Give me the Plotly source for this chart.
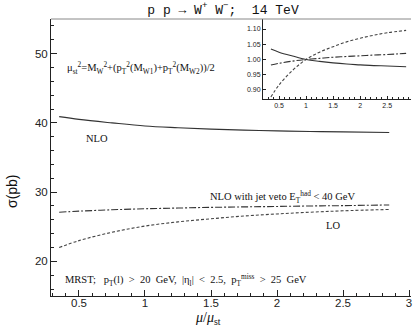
import numpy as np
import plotly.graph_objects as go

# scale factor mu/mu_st
mu = [0.35, 0.5, 0.75, 1.0, 1.25, 1.5, 1.75, 2.0, 2.25, 2.5, 2.85]

# cross sections in pb
sigma_nlo = [40.9, 40.5, 40.0, 39.55, 39.3, 39.1, 38.95, 38.85, 38.75, 38.7, 38.6]
sigma_lo = [22.0, 23.0, 24.2, 25.1, 25.7, 26.15, 26.55, 26.85, 27.1, 27.3, 27.5]
sigma_veto = [27.1, 27.25, 27.45, 27.6, 27.7, 27.8, 27.87, 27.93, 28.0, 28.05, 28.15]

x_ticks = [0.5, 1, 1.5, 2, 2.5, 3]
y_ticks = [20, 30, 40, 50]
inset_yticks = [0.90, 0.95, 1.00, 1.05, 1.10]

i1 = mu.index(1.0)
ratio = lambda s: np.array(s) / s[i1]

styles = {
    "nlo": dict(color="#333", width=1.1, dash="solid"),
    "lo": dict(color="#444", width=1.1, dash="3px,2px"),
    "veto": dict(color="#333", width=1.1, dash="7px,2px,2px,2px"),
}

fig = go.Figure()
for key, s in [("nlo", sigma_nlo), ("lo", sigma_lo), ("veto", sigma_veto)]:
    fig.add_trace(go.Scatter(x=mu, y=s, mode="lines", line=dict(shape="spline", **styles[key]),
                             showlegend=False, hoverinfo="skip"))
    fig.add_trace(go.Scatter(x=mu, y=ratio(s), mode="lines", line=dict(shape="spline", **styles[key]),
                             xaxis="x2", yaxis="y2", showlegend=False, hoverinfo="skip"))

W, H = 413, 333
L, R, T, B = 51, 2, 19, 37
pw = W - L - R
ph = H - T - B

tickfont = dict(family="Liberation Sans, Arial", size=11.5, color="#222")
small = dict(family="Liberation Sans, Arial", size=7, color="#222")

fig.update_layout(
    width=W, height=H,
    margin=dict(l=L, r=R, t=T, b=B, autoexpand=False),
    paper_bgcolor="white", plot_bgcolor="white",
    title=dict(text="p p \u2192 W<sup>+</sup> W<sup>\u2212</sup>;  14 TeV",
               x=223 / W, xanchor="center", y=1 - 9 / H, yanchor="middle",
               font=dict(family="Liberation Mono", size=13, color="#111")),
    xaxis=dict(range=[0.288, 3.015], tickvals=x_ticks, ticktext=["0.5", "1", "1.5", "2", "2.5", "3"],
               ticks="inside", ticklen=6, tickcolor="#222", showline=True, linecolor="#222", linewidth=1,
               showgrid=False, zeroline=False, tickfont=tickfont, ticklabelstandoff=-4,
               ticklabeloverflow="allow", automargin=False,
               minor=dict(dtick=0.1, tick0=0, ticks="inside", ticklen=3, tickcolor="#222")),
    yaxis=dict(range=[15, 55], tickvals=y_ticks, ticks="inside", ticklen=6, tickcolor="#222",
               showline=True, linecolor="#222", linewidth=1, showgrid=False, zeroline=False,
               tickfont=tickfont, automargin=False,
               minor=dict(dtick=2, tick0=0, ticks="inside", ticklen=3, tickcolor="#222")),
    xaxis2=dict(domain=[(263 - L) / pw, 1], anchor="y2", range=[0.204, 2.94],
                tickvals=[0.5, 1, 1.5, 2, 2.5], ticktext=["0.5", "1", "1.5", "2", "2.5"],
                ticks="inside", ticklen=3, tickcolor="#222", showline=True, linecolor="#222", linewidth=1,
                showgrid=False, zeroline=False, tickfont=small, automargin=False,
                minor=dict(dtick=0.1, tick0=0, ticks="inside", ticklen=2, tickcolor="#222")),
    yaxis2=dict(domain=[(H - B - 99) / ph, 1], anchor="x2", range=[0.870, 1.133],
                tickvals=inset_yticks, ticktext=["0.90", "0.95", "1.00", "1.05", "1.10"],
                ticks="inside", ticklen=3, tickcolor="#222", showline=True, linecolor="#222", linewidth=1,
                showgrid=False, zeroline=False, tickfont=small, automargin=False),
)

# top frame line
fig.add_shape(type="line", xref="paper", yref="paper", x0=0, x1=1, y0=1, y1=1,
              line=dict(color="#888", width=1))

txt = dict(family="Liberation Serif, Times New Roman", size=10.5, color="#111")


def px(xp, yp):
    return dict(x=(xp - L) / pw, y=(H - B - yp) / ph, xref="paper", yref="paper")


notes = [
    (65, 68, "left",
     "\u03bc<sub>st</sub><sup>2</sup>=M<sub>W</sub><sup>2</sup>+(p<sub>T</sub><sup>2</sup>(M<sub>W1</sub>)"
     "+p<sub>T</sub><sup>2</sup>(M<sub>W2</sub>))/2"),
    (97, 138, "center", "NLO"),
    (208, 197, "left", "NLO with jet veto E<sub>T</sub><sup>had</sup> < 40 GeV"),
    (333, 225, "center", "LO"),
    (63, 280, "left",
     "MRST;   p<sub>T</sub>(l)  >  20  GeV,  |\u03b7<sub>l</sub>|  <  2.5,  p<sub>T</sub><sup>miss</sup>  >  25  GeV"),
]
for xp, yp, anchor, text in notes:
    fig.add_annotation(text=text, showarrow=False, xanchor=anchor, yanchor="middle", font=txt, **px(xp, yp))

fig.add_annotation(text="\u03c3(pb)", showarrow=False, textangle=-90, xanchor="center", yanchor="middle",
                   font=dict(family="Liberation Sans, Arial", size=14, color="#111"), **px(12, 191))
fig.add_annotation(text="<i>\u03bc</i>/<i>\u03bc</i><sub>st</sub>", showarrow=False, xanchor="center",
                   yanchor="middle", font=dict(family="Liberation Serif", size=14, color="#111"),
                   **px(208, 318))

# the default page has an 8px body margin; drop it so the figure sits at the window origin
fig.write_html("out.html", config={"displayModeBar": False},
               post_script="document.body.style.margin='0';")
